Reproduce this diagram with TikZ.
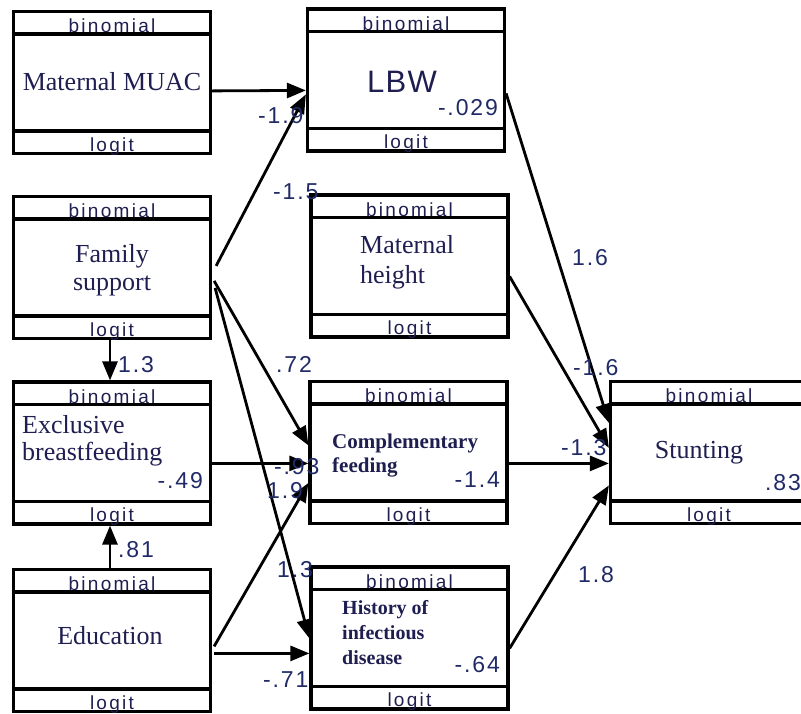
\documentclass[tikz,border=0pt]{standalone}
\usepackage{fontspec}
\setmainfont{Liberation Serif}
\newfontfamily\stripfont[LetterSpace=12]{Liberation Sans}
\newfontfamily\coeffont[LetterSpace=8]{Liberation Sans}
\newfontfamily\lbwfont[LetterSpace=4]{Liberation Sans}
\usepackage{tikz}
\usetikzlibrary{arrows.meta,calc}
\definecolor{smInk}{HTML}{1E1E50}
\definecolor{smCoef}{HTML}{1F2A66}
\tikzset{
  % outer frame of a variable
  varbox/.style={rectangle,draw=black,line width=3.2pt,
    minimum width=197pt,minimum height=142pt,inner sep=0pt},
  % lines under binomial / above logit
  sepline/.style={line width=3.6pt},
  striptxt/.style={font=\stripfont\fontsize{19}{19}\selectfont,
    text=smInk,inner sep=0pt},
  % variable names
  vartxt/.style={font=\fontsize{26}{28}\selectfont,text=smInk,inner sep=0pt},
  smalltxt/.style={font=\bfseries\fontsize{20}{25}\selectfont,text=smInk,
    inner sep=0pt,align=left,anchor=west},
  % path coefficients
  coef/.style={font=\coeffont\fontsize{23}{23}\selectfont,text=smCoef,
    inner sep=0pt,anchor=base west},
  arr/.style={-{Triangle[length=19pt,width=15pt]},line width=2.8pt},
}
\begin{document}
\begin{tikzpicture}[x=1pt,y=-1pt]
  \useasboundingbox (0,0) rectangle (801,713);

  % frames
  \node[varbox] (muac)  at (112,82.5)  {};
  \node[varbox] (lbw)   at (406,80)    {};
  \node[varbox] (fam)   at (112,267.5) {};
  \node[varbox] (mh)    at (409.5,266) {};
  \node[varbox] (ebf)   at (112,453)   {};
  \node[varbox] (cf)    at (408.5,452.5) {};
  \node[varbox] (stunt) at (709,452.5) {};
  \node[varbox] (edu)   at (112,640.5) {};
  \node[varbox] (hist)  at (409.5,638) {};

  % binomial / logit strips
  \foreach \v in {muac,lbw,fam,mh,ebf,cf,stunt,edu,hist}{
    \draw[sepline] ($(\v.north west)+(0,24)$) -- ($(\v.north east)+(0,24)$);
    \draw[sepline] ($(\v.south west)+(0,-24)$) -- ($(\v.south east)+(0,-24)$);
    \begin{scope}
      \clip (\v.north west) rectangle (\v.south east);
      \node[striptxt,anchor=base] (\v-bin) at ($(\v.north)+(0,23)$) {binomial};
      \node[striptxt,anchor=base] (\v-lgt) at ($(\v.south)+(0,-4)$) {logit};
    \end{scope}
  }

  % names inside the frames
  \node[vartxt,anchor=base] (muac-t) at (112,90.7) {Maternal MUAC};
  \node[vartxt,anchor=base,font=\lbwfont\fontsize{31}{31}\selectfont]
    (lbw-t) at (402,92) {LBW};
  \node[vartxt,align=center] (fam-t) at (112,270) {Family\\support};
  \node[vartxt,align=left,anchor=west,font=\fontsize{26}{30}\selectfont]
    (mh-t) at (360,262) {Maternal\\height};
  \node[vartxt,align=left,anchor=west,font=\fontsize{26}{27}\selectfont]
    (ebf-t) at (22,440.4) {Exclusive\\breastfeeding};
  \node[smalltxt,font=\bfseries\fontsize{21}{24}\selectfont]
    (cf-t) at (332,456) {Complementary\\feeding};
  \node[vartxt,anchor=base] (stunt-t) at (699,458) {Stunting};
  \node[vartxt,anchor=base] (edu-t) at (110,644) {Education};
  \node[smalltxt] (hist-t) at (342,633) {History of\\infectious\\disease};

  % intercepts
  \node[coef,anchor=base east] (lbw-c)   at (498,115) {-.029};
  \node[coef,anchor=base east] (ebf-c)   at (203,488) {-.49};
  \node[coef,anchor=base east] (cf-c)    at (500,487) {-1.4};
  \node[coef,anchor=base east] (stunt-c) at (801,490) {.83};
  \node[coef,anchor=base east] (hist-c)  at (500,672) {-.64};

  % paths
  \draw[arr] ($(muac.north east)+(0,81)$) -- ($(lbw.north west)+(0,83)$);
  \draw[arr] ($(fam.north east)+(4,71)$) -- ($(lbw.north west)+(0,87)$);
  \draw[arr] ($(lbw.north east)+(0,86)$) -- ($(stunt.north west)+(0,43)$);
  \draw[arr] ($(mh.north east)+(0,83)$) -- ($(stunt.north west)+(0,68)$);
  \draw[arr] ($(cf.north east)+(0,83.5)$) -- ($(stunt.north west)+(0,83.5)$);
  \draw[arr] ($(hist.north east)+(0,83)$) -- ($(stunt.north west)+(0,105.5)$);
  \draw[arr] ([xshift=-2pt]fam.south) -- ([xshift=-2pt]ebf.north);
  \draw[arr] ($(fam.north east)+(2,86)$) -- ($(cf.north west)+(0,65.5)$);
  \draw[arr] ($(fam.north east)+(3,93)$) -- ($(hist.north west)+(0,73)$);
  \draw[arr] ($(ebf.north east)+(0,83)$) -- ($(cf.north west)+(0,83.5)$);
  \draw[arr] ($(edu.north east)+(2,78.5)$) -- ($(cf.north west)+(0,103)$);
  \draw[arr] ([xshift=-2pt]edu.north) -- ([xshift=-2pt]ebf.south);
  \draw[arr] ($(edu.north east)+(2,85.5)$) -- ($(hist.north west)+(0,88)$);

  % coefficients on the paths
  \node[coef] (c-muac) at (258,123) {-1.9};
  \node[coef] (c-famlbw) at (273,199) {-1.5};
  \node[coef] (c-lbw) at (572,265) {1.6};
  \node[coef] (c-mh) at (573,375) {-1.6};
  \node[coef] (c-cf) at (561,455) {-1.3};
  \node[coef] (c-hist) at (578,582) {1.8};
  \node[coef] (c-famebf) at (118,372) {1.3};
  \node[coef] (c-famcf) at (276,372) {.72};
  \node[coef] (c-ebf) at (274,474) {-.93};
  \node[coef] (c-educf) at (267,498) {1.9};
  \node[coef] (c-famhist) at (277,577) {1.3};
  \node[coef] (c-eduhist) at (263,687) {-.71};
  \node[coef] (c-eduebf) at (118,557) {.81};
\end{tikzpicture}
\end{document}
